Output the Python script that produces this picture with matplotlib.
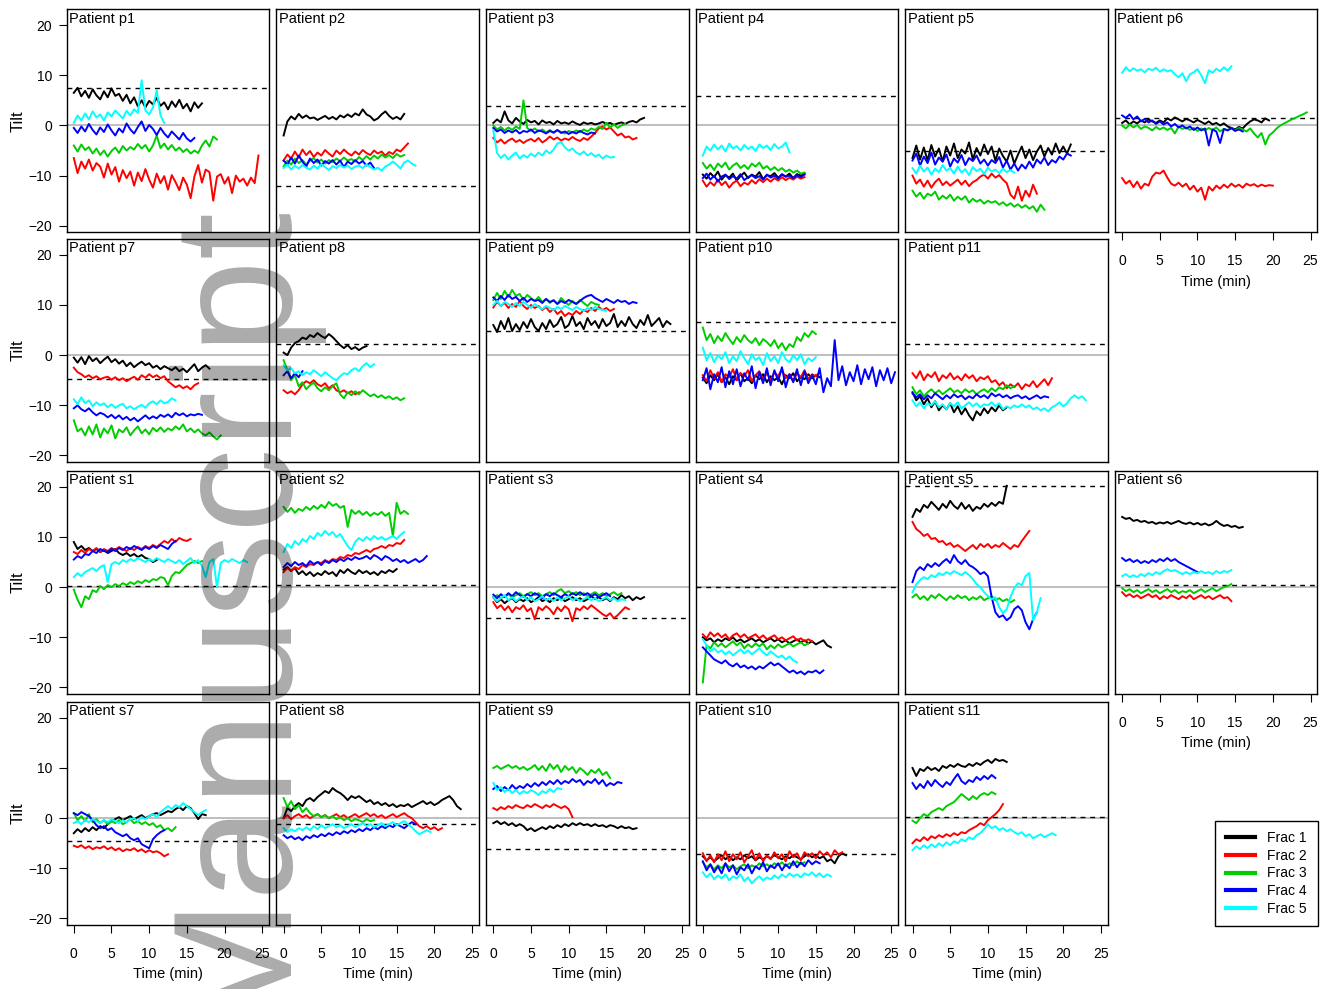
import numpy as np
import matplotlib.pyplot as plt
from matplotlib.lines import Line2D

plt.rcParams['font.family'] = ['Liberation Sans', 'DejaVu Sans']

# tilt traces are sampled every dt minutes, each list starts at t = 0
dt = 0.5
frac_labels = ['Frac 1', 'Frac 2', 'Frac 3', 'Frac 4', 'Frac 5']
frac_colours = ['#000000', '#FF0000', '#00CD00', '#0000FF', '#00FFFF']

layout = [['p1', 'p2', 'p3', 'p4', 'p5', 'p6'],
          ['p7', 'p8', 'p9', 'p10', 'p11', None],
          ['s1', 's2', 's3', 's4', 's5', 's6'],
          ['s7', 's8', 's9', 's10', 's11', None]]

# planned tilt per patient (dashed line)
ref_tilt = {'p1': 7.4, 'p2': -12.1, 'p3': 3.8, 'p4': 5.8, 'p5': -5.0, 'p6': 1.5,
            'p7': -4.8, 'p8': 2.3, 'p9': 4.9, 'p10': 6.6, 'p11': 2.3,
            's1': 0.2, 's2': 0.4, 's3': -6.1, 's4': 0.0, 's5': 20.1, 's6': 0.5,
            's7': -4.5, 's8': -1.2, 's9': -6.1, 's10': -7.2, 's11': 0.2}

# per patient: [frac 1, frac 2, frac 3, frac 4, frac 5]
p1 = [[6.5, 7.5, 5.8, 6.9, 5.5, 7.2, 6.0, 5.2, 6.8, 5.6, 7.4, 5.9, 6.3, 4.9, 6.1, 4.4, 5.6, 3.8, 5.0, 3.6, 4.9, 4.2, 5.5, 3.9, 4.6, 3.2, 4.8, 3.7, 5.1, 3.4, 4.3, 2.8, 4.6, 3.5, 4.4],
      [-6.5, -9.5, -7.2, -8.6, -6.8, -9.0, -7.5, -8.2, -10.4, -7.6, -9.8, -8.3, -11.2, -8.9, -10.5, -9.2, -12.0, -9.4, -11.1, -8.7, -10.8, -12.4, -9.6, -11.5, -10.1, -12.8, -9.9, -11.3, -12.9, -10.4, -11.8, -14.5, -10.2, -7.9, -11.4, -8.8, -9.3, -15.0, -10.2, -9.7, -11.6, -10.3, -13.5, -10.0, -11.2, -10.6, -12.0, -10.4, -11.5, -6.0],
      [-4.0, -5.2, -3.8, -4.9, -4.3, -5.6, -4.6, -5.9, -5.0, -6.2, -5.1, -4.4, -5.5, -4.1, -5.0, -4.3, -4.8, -3.7, -4.6, -3.9, -5.2, -4.0, -2.0, -4.5, -3.6, -4.8, -3.9, -5.0, -4.4, -5.3, -4.7, -5.6, -5.0, -5.5, -4.0, -3.0, -4.2, -2.2, -2.8],
      [-0.5, -1.5, -0.2, -1.2, 0.3, -0.9, -1.8, -0.4, -1.3, 0.2, -1.0, -2.0, -0.6, -1.4, 0.4, -0.8, -1.6, -0.3, 0.8, -1.1, 0.1, -0.7, -1.9, -0.5, -1.6, -2.4, -1.2, -2.0, -2.8, -1.5, -2.6, -3.2, -2.5],
      [0.5, 2.0, 1.0, 2.4, 1.2, 2.8, 1.6, 2.2, 1.0, 2.6, 1.8, 3.0, 2.2, 1.4, 2.9, 2.0, 3.2, 2.5, 9.0, 3.0, 2.2, 3.6, 7.0, 2.0, 0.5]]
p2 = [[-2.0, 0.8, 1.8, 1.2, 2.3, 1.5, 2.0, 1.4, 1.6, 1.1, 1.5, 1.9, 1.3, 1.7, 1.2, 2.0, 1.6, 2.2, 1.7, 2.4, 2.0, 3.2, 2.2, 1.8, 1.0, 1.4, 2.2, 2.8, 1.9, 1.3, 1.7, 1.2, 2.3],
      [-7.0, -5.8, -6.6, -5.2, -6.4, -4.8, -5.9, -5.1, -6.3, -5.4, -6.0, -4.9, -5.6, -6.2, -5.0, -5.7, -4.8, -5.5, -6.0, -5.2, -5.8, -4.9, -5.5, -5.9, -5.0, -5.6, -5.2, -6.0, -5.3, -5.7, -4.8, -5.2, -4.4, -3.6],
      [-8.2, -7.0, -7.8, -6.6, -7.5, -6.9, -7.8, -7.0, -6.5, -7.4, -6.8, -7.6, -6.9, -7.3, -6.6, -7.1, -6.4, -7.0, -6.7, -7.2, -6.3, -6.9, -6.1, -6.8, -6.0, -6.6, -5.8, -6.4, -5.9, -6.5, -5.7, -6.2, -5.9],
      [-7.0, -7.8, -6.4, -7.6, -6.0, -7.2, -8.2, -6.6, -7.5, -6.8, -8.0, -7.1, -7.6, -6.9, -7.8, -7.0, -8.3, -7.2, -7.7, -6.9, -7.6, -7.1, -8.0, -7.4, -8.5],
      [-8.5, -7.8, -8.8, -8.0, -8.6, -7.9, -8.4, -8.8, -8.0, -8.6, -7.7, -8.3, -8.9, -8.1, -8.5, -7.9, -8.4, -8.0, -8.7, -8.2, -8.0, -8.5, -7.8, -8.3, -8.8, -8.4, -9.0, -8.2, -7.8, -7.2, -7.8, -8.6, -7.4, -7.0, -7.6, -8.0]]
p3 = [[0.5, 1.2, 0.6, 2.8, 1.0, 0.4, 1.5, 0.8, 0.3, 1.1, 0.6, 0.9, 0.2, 1.0, 0.5, 0.7, 0.2, 0.9, 0.4, 0.6, 0.3, 0.8, 0.4, 0.1, 0.6, 0.3, 0.5, 0.2, 0.4, 0.7, 0.3, 0.5, 0.1, 0.4, 0.6, 0.3, 0.7, 0.9, 0.6, 1.2, 1.5],
      [-2.5, -3.4, -2.8, -3.6, -3.0, -2.6, -3.3, -2.9, -3.5, -3.0, -2.7, -3.2, -2.5, -3.4, -2.9, -2.2, -2.8, -2.4, -3.0, -2.6, -2.9, -2.3, -2.8, -3.1, -2.5, -2.9, -2.2, -1.5, -0.6, -0.2, -0.8, -0.4, -1.2, -2.0, -1.6, -2.4, -2.2, -2.8, -2.5],
      [0.0, -0.8, -0.3, -1.0, -0.4, -0.9, -0.2, -0.7, 5.0, -0.5, -1.1, -0.6, -1.2, -0.8, -1.4, -0.9, -1.5, -1.0, -1.3, -1.6, -1.1, -1.4, -1.0, -1.3, -0.8, -1.2, -0.6, -0.9, -0.3, -0.7, 0.5, -0.4, 0.2, -0.5, 0.0, 0.3],
      [-0.5, -1.2, -0.8, -1.5, -1.0, -1.4, -0.9, -1.6, -1.1, -1.3, -0.8, -1.5, -1.0, -1.2, -1.6, -1.1, -1.4, -0.9, -1.5, -1.2, -1.7, -1.3, -1.6, -1.1, -1.5, -1.8, -1.4, -1.6],
      [-1.0, -5.5, -6.5, -5.8, -6.8, -6.0, -5.4, -6.6, -5.9, -6.4, -5.6, -6.2, -5.4, -6.0, -5.0, -5.6, -4.8, -3.6, -3.3, -4.4, -5.0, -4.6, -5.4, -5.8, -5.2, -6.0, -5.5, -6.2, -5.8, -6.6, -6.0, -6.4, -6.3]]
p4 = [[-9.8, -10.6, -9.5, -10.3, -9.2, -10.8, -9.9, -10.4, -9.6, -11.0, -10.1, -9.4, -10.5, -9.8, -10.2, -9.3, -10.7, -9.9, -10.1, -9.5, -10.4, -9.8, -10.2, -9.6, -10.5, -9.7, -10.0, -9.6],
      [-11.0, -12.2, -11.3, -12.0, -10.8, -11.9, -11.2, -12.4, -11.5, -11.0, -12.1, -11.4, -11.8, -10.9, -11.6, -10.7, -11.3, -10.6, -11.2, -10.5, -11.0, -10.3, -10.9, -10.4, -10.8, -10.2, -10.6, -10.3],
      [-7.5, -8.6, -7.8, -8.9, -7.6, -8.3, -7.4, -8.8, -8.0, -7.5, -8.5, -7.9, -8.7, -7.6, -8.2, -7.4, -8.6, -8.1, -8.9, -8.3, -9.0, -8.5, -9.2, -8.8, -9.4, -9.0, -9.6, -9.4],
      [-10.5, -9.6, -10.8, -10.0, -11.2, -10.2, -9.8, -10.7, -10.1, -10.6, -9.7, -10.9, -10.3, -9.9, -10.5, -10.1, -10.8, -9.8, -10.4, -10.0, -10.6, -9.7, -10.2, -10.0, -10.5, -9.9, -10.3, -9.8],
      [-6.0, -4.2, -5.0, -3.8, -4.8, -4.0, -5.2, -3.6, -4.6, -4.1, -5.0, -3.9, -4.7, -4.2, -5.1, -3.8, -4.5, -4.0, -4.9, -3.7, -4.6, -4.2, -3.4, -5.4]]
p5 = [[-6.5, -4.0, -6.8, -4.4, -7.0, -3.9, -6.2, -4.6, -7.2, -4.2, -6.0, -3.6, -6.5, -4.8, -5.6, -3.4, -6.8, -4.5, -6.0, -3.8, -5.7, -4.2, -7.0, -4.6, -6.1, -7.2, -5.0, -7.6, -5.8, -4.2, -6.5, -4.8, -6.9, -5.2, -4.0, -6.2, -4.5, -5.8, -3.6, -5.5, -4.2, -5.6, -3.8],
      [-10.0, -11.6, -10.8, -12.2, -11.0, -12.4, -11.3, -10.6, -11.9, -11.2, -12.0, -11.4, -10.8, -11.8, -11.0, -12.1, -11.3, -10.9, -10.2, -9.8, -10.6, -9.6, -10.4, -9.9, -10.8, -11.5, -13.8, -14.6, -12.2, -15.0, -13.0, -14.2, -11.8, -13.6],
      [-13.0, -14.2, -13.4, -14.6, -13.6, -14.0, -13.2, -14.8, -14.0, -14.6, -13.8, -15.0, -14.2, -14.8, -14.1, -15.4, -14.6, -15.2, -14.8, -15.6, -15.0, -15.4, -15.1, -15.8, -15.3, -16.0, -15.5, -16.2, -15.7, -16.4, -15.9, -16.6, -16.1, -17.2, -15.8, -16.8],
      [-7.0, -5.6, -8.0, -6.2, -7.5, -5.4, -7.8, -6.4, -7.2, -5.8, -8.2, -6.6, -7.4, -5.9, -7.9, -6.5, -7.1, -6.0, -7.6, -6.8, -8.0, -6.9, -7.5, -6.3, -8.4, -7.0, -8.8, -7.6, -9.0, -7.8, -8.6, -7.2, -8.4, -6.8, -7.6, -6.4, -7.9, -6.9, -7.4, -6.2, -6.8, -5.6, -6.0],
      [-8.5, -9.6, -8.0, -9.2, -8.4, -9.8, -8.6, -9.3, -7.9, -9.0, -8.5, -9.6, -8.2, -9.4, -8.7, -9.9, -8.3, -9.1, -8.6, -9.7, -8.4, -9.2, -8.8, -9.5, -8.6, -9.3, -8.9, -9.4]]
p6 = [[0.5, 1.0, 0.2, 0.8, 0.4, 1.0, 0.6, 1.2, 0.8, 0.5, 1.0, 0.6, 1.4, 1.0, 1.6, 1.2, 0.8, 1.3, 1.0, 0.6, 1.1, 0.7, 0.3, 0.8, 0.2, 0.5, 0.0, 0.4, -0.2, -0.5, -0.8, -0.3, -0.6, 0.2, 0.8, 1.2, 1.0, 0.6, 1.4, 1.0],
      [-10.5, -11.6, -11.0, -12.3, -11.2, -12.6, -11.6, -12.0, -10.2, -9.4, -9.6, -9.0, -10.4, -11.6, -12.0, -11.4, -12.2, -11.6, -12.8, -12.0, -13.2, -12.4, -14.8, -12.2, -13.0, -12.0, -12.6, -11.8, -12.4, -11.6, -12.2, -11.8, -12.4, -11.6, -12.0, -11.7, -12.2, -11.8, -12.1, -11.9, -12.0],
      [0.0, -0.6, 0.2, -0.4, 0.1, -0.7, -0.2, -0.5, -1.0, -0.3, -0.8, -0.4, -0.9, -0.5, -1.6, -0.2, -0.7, -0.4, -0.9, -0.5, -1.1, -0.6, -1.0, -0.5, -0.9, -0.4, -1.2, -0.7, -0.9, -0.6, -1.0, -0.5, -0.8, -1.2, -0.6, -1.6, -2.4, -1.5, -3.8, -2.0, -1.4, -0.6, 0.0, 0.4, 0.8, 1.2, 1.5, 1.9, 2.2, 2.6],
      [2.0, 1.5, 2.2, 1.2, 1.8, 0.8, 1.3, 0.6, 1.0, 0.3, 0.8, 0.2, 0.6, -0.2, 0.3, -0.4, 0.0, -0.6, -0.2, -0.9, -0.4, -1.0, -0.6, -4.0, -0.8, -1.2, -3.5, -0.7, -1.0, -0.5, -1.1, -0.8, -1.2],
      [10.5, 11.6, 10.8, 11.4, 10.9, 11.2, 10.6, 11.3, 11.0, 11.5, 10.7, 11.2, 10.8, 11.0, 10.2, 9.6, 10.4, 8.8, 10.2, 10.6, 11.2, 10.0, 8.4, 11.0, 10.5, 11.3, 10.8, 11.6, 10.9, 11.8]]
p7 = [[-0.5, -1.5, -0.4, -1.8, -0.2, -1.2, -0.6, -1.6, -0.9, -0.3, -1.4, -0.8, -1.7, -1.1, -2.2, -1.5, -2.4, -1.8, -1.3, -2.0, -1.6, -2.5, -2.1, -2.8, -2.2, -2.6, -3.0, -2.4, -3.2, -2.7, -3.4, -2.6, -1.8, -3.2, -2.5, -2.0, -2.7],
      [-2.5, -3.4, -3.8, -4.4, -4.0, -4.6, -4.2, -4.8, -4.5, -4.3, -4.9, -4.4, -5.0, -4.6, -5.2, -4.7, -4.3, -4.9, -4.0, -4.5, -3.8, -4.4, -4.0, -4.6, -4.2, -5.2, -5.8, -6.4, -6.0, -6.6, -6.2, -6.8, -6.0, -5.6],
      [-13.0, -15.2, -14.6, -16.0, -14.2, -15.8, -13.8, -16.4, -14.6, -15.6, -14.0, -16.6, -14.8, -15.4, -14.4, -16.0, -15.0, -14.2, -15.6, -14.8, -15.8, -14.5, -15.2, -14.4, -15.3, -14.6, -15.0, -14.2, -14.8, -13.8, -15.2, -14.6, -15.4, -14.8, -15.6, -16.0, -15.4, -16.2, -16.8, -16.0],
      [-10.6, -10.0, -10.8, -11.2, -10.6, -11.4, -12.0, -11.5, -11.8, -12.4, -11.9, -12.6, -12.0, -12.8, -12.3, -13.0, -12.5, -13.2, -12.6, -12.0, -12.7, -12.2, -12.6, -11.9, -12.3, -11.8, -12.4, -11.5, -12.0, -11.6, -12.2, -11.8, -12.0, -11.7, -11.9],
      [-8.8, -9.8, -8.4, -9.6, -9.0, -10.2, -9.4, -10.0, -9.6, -10.4, -9.8, -10.5, -10.0, -9.7, -10.6, -10.2, -10.8, -10.3, -9.9, -10.5, -9.6, -9.2, -9.8, -9.0, -9.6, -9.3, -8.6, -9.0]]
p8 = [[0.5, 0.0, 1.5, 2.4, 2.8, 3.5, 3.2, 4.0, 3.6, 4.4, 3.8, 3.4, 4.2, 3.6, 2.8, 2.0, 1.4, 2.0, 1.2, 1.6, 1.0, 1.5, 1.8],
      [-7.0, -7.6, -7.2, -7.8, -7.0, -5.8, -5.2, -5.6, -5.0, -5.8, -6.2, -5.6, -6.6, -6.0, -7.0, -7.4, -7.0, -7.6, -7.2, -7.8, -7.4],
      [-1.0, -3.0, -5.0, -4.0, -6.2, -5.4, -6.8, -6.0, -5.5, -6.6, -7.2, -6.4, -7.0, -6.2, -5.6, -7.8, -8.6, -7.4, -8.0, -7.2, -7.8, -7.0, -7.6, -8.2, -7.8, -8.4, -8.0, -8.6, -8.2, -8.8, -8.4, -9.0, -8.6],
      [-4.0, -3.2, -4.6, -3.6, -4.4, -3.2],
      [-2.0, -3.0, -2.6, -3.6, -3.2, -4.0, -3.4, -3.8, -3.0, -3.6, -4.2, -3.4, -4.0, -4.6, -5.0, -4.2, -3.6, -3.8, -3.0, -2.6, -3.2, -2.2, -1.6, -2.4, -1.8]]
p9 = [[6.0, 4.6, 6.8, 5.2, 7.4, 4.8, 6.2, 5.0, 6.6, 5.4, 7.2, 5.6, 4.8, 6.4, 5.2, 7.0, 5.6, 6.2, 7.6, 5.4, 6.0, 7.8, 5.8, 6.6, 5.2, 7.4, 6.0, 6.8, 5.4, 7.2, 5.8, 6.4, 8.2, 5.6, 6.8, 5.8, 7.6, 6.2, 5.4, 7.0, 6.0, 8.0, 5.8, 6.6, 7.4, 5.6, 6.8, 6.2],
      [9.5, 10.6, 9.8, 10.4, 9.4, 10.2, 9.6, 10.8, 9.8, 9.2, 10.0, 9.4, 9.8, 9.0, 9.6, 8.6, 9.2, 8.2, 8.8, 7.8, 8.4, 8.0, 8.8, 8.2, 9.0, 8.6, 9.4, 8.8, 9.6, 9.0, 9.4, 8.8, 9.2],
      [11.0, 12.4, 11.2, 12.8, 11.6, 13.0, 11.8, 12.2, 11.0, 12.0, 11.4, 10.8, 11.6, 10.6, 11.2, 10.4, 11.0, 10.2, 11.4, 10.6, 10.0, 10.8, 10.2, 11.0, 10.4, 9.8, 10.6, 10.2, 10.0],
      [11.5, 10.8, 11.8, 11.0, 12.0, 11.2, 11.6, 10.8, 11.4, 10.6, 11.2, 10.8, 11.0, 10.4, 11.2, 10.6, 10.9, 10.2, 10.8, 10.4, 11.0, 10.6, 10.2, 10.8, 11.4, 11.8, 12.0, 11.4, 11.0, 10.6, 11.2, 10.8, 10.4, 11.0, 10.6, 10.8, 10.2, 10.6, 10.4],
      [10.0, 10.8, 9.8, 10.6, 10.2, 9.6, 10.4, 9.8, 10.6, 10.0, 9.4, 10.2, 9.6, 9.2, 9.8, 9.4, 9.0, 9.6, 9.2, 9.8, 9.4, 9.0, 9.6, 9.2, 8.8, 9.4, 9.0, 9.6, 9.2, 9.0, 8.8]]
p10 = [[-4.5, -5.6, -4.0, -5.0, -3.8, -5.4, -4.4, -5.8, -4.2, -5.0, -3.6, -5.2, -4.6, -5.6, -4.0, -4.8, -3.8, -5.4, -4.2, -5.0, -4.4, -5.8, -4.0, -4.6, -3.6, -5.2, -4.4, -4.8, -3.8, -4.6, -4.0, -4.4],
       [-4.0, -5.2, -3.0, -4.6, -3.4, -5.4, -3.8, -4.4, -2.8, -5.0, -3.6, -4.2, -3.0, -5.2, -4.0, -3.2, -4.8, -3.6, -5.0, -3.4, -4.2, -2.8, -4.6, -3.8, -5.2, -3.6, -4.4, -3.0, -4.8, -3.8, -4.2, -3.4],
       [5.5, 3.0, 4.2, 2.4, 3.8, 2.8, 4.4, 3.2, 2.2, 3.6, 2.6, 4.0, 3.0, 2.4, 3.4, 2.0, 3.2, 2.6, 1.8, 3.0, 1.4, 2.4, 1.0, 2.2, 1.6, 3.6, 2.8, 4.4, 3.6, 4.8, 4.2],
       [-5.0, -2.6, -6.8, -3.8, -5.4, -2.4, -6.4, -3.2, -5.8, -2.8, -6.2, -3.6, -5.0, -2.2, -6.6, -3.4, -5.6, -2.6, -6.0, -3.0, -5.2, -2.4, -6.4, -3.8, -5.4, -2.8, -6.0, -3.2, -5.6, -4.0, -5.8, -2.6, -7.4, -4.6, -6.2, 3.0, -5.0, -2.2, -6.0, -3.4, -5.2, -2.0, -5.8, -2.8, -4.8, -2.4, -6.2, -3.0, -5.0, -2.6, -5.6, -3.4],
       [1.5, -1.0, 0.4, -1.4, 0.0, -0.8, 0.6, -1.6, -0.2, -1.2, 0.8, -0.6, -1.8, 0.2, -1.0, -0.4, -2.0, 0.4, -1.2, -0.2, -1.6, 0.6, -0.8, -1.4, 0.0, -1.0, 0.2, -1.8, -0.6, -1.2, -0.4]]
p11 = [[-7.4, -9.0, -8.2, -9.8, -8.6, -10.4, -9.2, -11.0, -10.0, -10.8, -9.6, -11.4, -10.2, -11.8, -10.6, -12.0, -13.0, -11.2, -12.0, -10.6, -11.6, -10.4, -11.2, -10.0, -11.0, -10.4],
       [-3.6, -4.6, -3.2, -5.0, -3.8, -4.4, -3.4, -5.2, -4.0, -4.6, -3.6, -4.8, -4.2, -5.0, -3.8, -4.6, -4.0, -5.2, -4.4, -4.8, -4.2, -5.4, -5.0, -6.0, -5.4, -6.6, -5.8, -6.4, -5.6, -6.8, -5.8, -6.2, -5.2, -6.4, -5.6, -4.8, -6.0, -4.6],
       [-6.4, -7.8, -7.0, -8.2, -7.4, -6.8, -7.6, -7.0, -7.8, -7.2, -6.6, -7.4, -7.0, -7.6, -6.8, -7.4, -7.0, -7.8, -7.2, -6.8, -7.4, -6.6, -7.2, -6.4, -6.8, -6.0, -6.6, -6.2],
       [-7.6, -8.4, -7.8, -8.8, -8.0, -8.6, -7.6, -8.2, -8.8, -8.0, -8.6, -7.8, -8.4, -8.0, -8.8, -8.2, -8.6, -7.8, -8.4, -8.0, -8.6, -7.6, -8.2, -7.8, -8.4, -8.0, -8.6, -8.2, -8.0, -8.6, -8.2, -8.8, -8.4, -8.0, -8.6, -8.2, -8.4],
       [-9.0, -10.2, -9.4, -10.6, -9.6, -10.0, -9.2, -10.4, -9.8, -10.8, -9.6, -10.2, -9.4, -10.6, -10.0, -9.4, -10.2, -9.6, -10.4, -9.8, -10.0, -9.4, -10.2, -9.6, -10.8, -10.2, -10.6, -10.0, -10.4, -9.8, -10.4, -10.0, -10.8, -10.4, -11.0, -10.6, -11.2, -10.4, -10.0, -9.4, -10.2, -9.6, -8.6, -8.0, -8.6, -8.2, -9.0]]
s1 = [[9.0, 7.6, 8.2, 7.4, 7.8, 7.2, 7.6, 7.0, 7.4, 6.8, 7.2, 7.6, 6.8, 6.4, 6.8, 6.2, 6.6, 6.0, 6.4, 5.8, 5.6, 5.0, 5.4],
      [7.0, 6.6, 7.4, 6.8, 7.6, 7.2, 7.8, 7.0, 7.6, 7.2, 7.8, 7.4, 8.0, 7.6, 7.2, 7.8, 7.4, 8.0, 7.6, 8.2, 7.8, 8.4, 8.0, 8.6, 9.2, 8.8, 9.6, 9.0, 9.8, 9.4, 9.2, 9.6],
      [-0.5, -2.5, -4.0, -1.8, -2.4, -0.6, -1.0, 0.2, -0.4, 0.4, 0.0, 0.6, 0.2, 0.8, 0.4, 1.0, 0.6, 1.2, 0.8, 1.4, 1.0, 1.6, 1.4, 2.0, 1.8, 0.4, 2.2, 3.0, 2.8, 3.6, 4.4, 4.8, 5.2, 4.8, 5.2],
      [5.5, 6.2, 5.8, 6.6, 6.4, 7.2, 6.8, 7.6, 7.2, 7.0, 7.6, 7.2, 7.8, 7.4, 8.0, 7.6, 8.2, 7.8, 7.4, 8.0, 7.6, 8.2, 7.8, 8.4, 8.0, 7.6, 8.6, 9.2],
      [2.0, 2.8, 2.2, 3.0, 3.4, 3.8, 3.2, 4.0, 4.4, 1.0, 4.6, 5.0, 4.6, 5.4, 5.0, 5.6, 5.2, 5.8, 5.4, 5.0, 5.6, 5.2, 5.8, 5.4, 5.0, 5.6, 5.2, 4.8, 5.4, 4.6, 5.2, 5.8, 4.8, 5.4, 4.2, 2.0, 5.0, 5.6, 0.0, 4.8, 5.4, 5.0, 5.6, 5.2, 4.8, 5.4, 5.0]]
s2 = [[3.5, 4.0, 3.2, 3.8, 2.6, 3.2, 2.4, 3.0, 2.2, 2.8, 2.4, 3.2, 2.6, 3.0, 2.2, 3.4, 2.8, 3.6, 3.0, 2.6, 3.4, 2.8, 3.2, 2.6, 3.0, 2.4, 3.2, 2.8, 3.4, 3.0, 3.6],
      [3.0, 3.8, 3.2, 4.0, 3.6, 4.4, 4.0, 4.6, 4.4, 5.0, 4.8, 5.4, 5.0, 5.6, 5.4, 6.0, 5.8, 6.4, 6.2, 6.8, 6.6, 7.0, 7.4, 7.0, 7.6, 7.8, 8.2, 7.8, 8.4, 8.2, 8.8, 8.6, 9.4],
      [16.0, 15.0, 15.8, 14.8, 15.6, 15.2, 16.0, 15.4, 16.2, 15.6, 16.4, 15.8, 17.0, 16.2, 16.6, 15.8, 16.2, 12.0, 15.4, 14.6, 15.2, 14.4, 15.0, 14.2, 14.8, 14.4, 15.0, 14.2, 14.8, 10.2, 16.8, 14.6, 15.2, 14.6],
      [4.0, 4.8, 4.2, 5.0, 4.4, 4.8, 4.2, 5.2, 4.6, 5.0, 4.4, 5.2, 4.8, 5.4, 5.0, 5.6, 5.2, 5.8, 5.4, 6.0, 5.6, 5.8, 6.2, 5.6, 6.4, 6.0, 5.4, 6.2, 5.8, 5.2, 5.6, 5.0, 5.4, 4.8, 5.2, 5.6, 5.0, 5.4, 6.2],
      [7.0, 8.6, 7.8, 9.2, 8.4, 9.6, 9.0, 10.2, 9.6, 10.8, 10.2, 11.2, 10.4, 11.0, 10.0, 10.6, 9.4, 8.2, 7.4, 9.0, 9.8, 9.2, 10.0, 9.4, 10.2, 9.6, 10.0, 9.4, 9.8, 10.2, 9.6, 10.4, 11.0]]
s3 = [[-2.0, -3.0, -2.4, -3.2, -2.6, -2.2, -3.0, -2.4, -2.8, -2.2, -3.0, -2.6, -2.0, -2.8, -2.4, -3.0, -2.2, -2.6, -2.0, -2.8, -2.4, -2.0, -2.6, -2.2, -2.8, -2.4, -1.8, -2.4, -2.0, -2.6, -2.2, -2.8, -2.0, -2.4, -1.6, -2.2, -1.8, -2.6, -2.0, -2.4, -2.0],
      [-3.0, -4.2, -3.6, -4.6, -3.8, -5.0, -4.0, -4.4, -3.6, -4.8, -4.2, -6.4, -4.0, -4.6, -3.8, -4.4, -5.4, -4.0, -4.8, -3.8, -4.4, -6.8, -4.2, -4.6, -3.8, -4.4, -3.6, -4.2, -4.8, -5.4, -5.8, -5.2, -6.2, -5.6, -4.8, -4.0, -4.4],
      [-2.0, -1.6, -2.2, -1.8, -1.4, -2.0, -1.6, -1.2, -1.8, -1.4, -1.0, -1.6, -1.2, -1.8, -1.4, -1.0, -1.6, -0.8, -0.4, -1.2, -0.8, -1.4, -1.0, -1.6, -1.2, -1.8, -1.4, -1.0, -1.6, -1.2, -1.8, -1.4, -1.0, -1.6, -1.2],
      [-1.5, -2.2, -1.4, -2.0, -1.2, -1.8, -1.0, -1.6, -2.0, -1.4, -1.8, -1.2, -1.6, -2.2, -1.4, -1.8, -1.2, -1.6, -2.0, -1.4, -1.8, -1.2, -1.6, -1.0, -1.6, -1.2, -1.8, -1.4, -2.0, -1.6, -1.2, -1.8],
      [-2.0, -2.8, -2.2, -1.6, -2.6, -2.0, -2.8, -2.2, -1.8, -2.6, -2.0, -2.8, -2.4, -1.8, -2.6, -2.2, -2.8, -2.0, -2.6, -2.2, -1.8, -2.6, -2.2, -2.8, -2.4, -2.0, -2.6, -2.2, -2.8, -2.4, -2.0, -2.6, -2.2, -2.8, -2.4, -2.6]]
s4 = [[-10.0, -10.6, -10.2, -11.0, -10.4, -10.8, -10.2, -10.6, -10.0, -10.8, -10.4, -11.0, -10.6, -10.2, -10.8, -10.4, -11.0, -10.6, -10.2, -10.8, -10.4, -11.0, -10.6, -11.2, -10.8, -10.4, -11.0, -10.6, -11.2, -10.8, -11.4, -11.0, -10.6, -11.6, -12.0],
      [-9.4, -10.2, -9.0, -9.8, -9.2, -10.0, -9.4, -10.4, -9.6, -9.2, -10.0, -9.4, -10.2, -9.8, -9.4, -10.2, -9.6, -10.4, -10.0, -9.6, -10.4, -10.0, -10.6, -10.2, -9.8, -10.6, -10.2, -10.8, -10.4, -10.8],
      [-19.0, -11.6, -12.2, -11.0, -11.8, -11.2, -12.0, -11.4, -10.8, -11.6, -11.0, -12.2, -11.4, -12.0, -11.2, -11.8, -11.2, -12.4, -11.6, -12.2, -11.4, -12.0, -11.6, -11.2, -11.8, -11.4, -11.0, -11.6, -11.2],
      [-12.0, -12.8, -13.6, -14.4, -14.8, -15.2, -14.6, -15.4, -15.8, -15.2, -16.0, -15.6, -16.2, -15.8, -16.4, -15.8, -16.2, -15.6, -15.0, -15.6, -15.2, -15.8, -16.4, -17.0, -16.6, -17.2, -16.8, -17.4, -16.8, -17.0, -16.6, -17.2, -16.6],
      [-10.4, -11.6, -12.8, -12.2, -13.0, -12.6, -13.4, -12.8, -13.6, -13.0, -12.4, -13.2, -12.6, -13.4, -12.8, -12.2, -13.0, -13.6, -12.8, -13.4, -14.0, -13.6, -14.4, -13.8, -14.6, -15.0]]
s5 = [[14.0, 15.6, 15.0, 16.4, 15.8, 17.0, 16.2, 15.4, 16.6, 15.8, 17.2, 16.2, 15.6, 16.8, 15.6, 16.4, 15.2, 16.0, 15.6, 16.6, 16.0, 16.8, 16.2, 17.0, 16.6, 20.2],
      [13.0, 11.6, 11.0, 10.2, 10.6, 9.6, 9.8, 9.0, 9.2, 8.4, 8.8, 8.0, 8.4, 7.8, 7.2, 7.8, 8.4, 7.6, 8.6, 8.0, 8.6, 7.8, 8.4, 8.0, 8.8, 8.2, 7.6, 8.4, 8.0, 9.2, 10.2, 11.2],
      [-2.0, -1.4, -2.4, -1.8, -2.6, -1.6, -2.2, -1.4, -2.0, -2.6, -1.8, -2.4, -1.6, -2.2, -1.8, -2.6, -2.0, -2.4, -1.8, -2.6, -2.2, -1.8, -2.6, -2.2, -2.8, -2.4, -3.0, -2.6],
      [1.0, 3.2, 4.0, 3.4, 4.6, 4.0, 4.8, 4.2, 5.0, 5.6, 4.8, 6.4, 5.2, 4.6, 5.4, 4.4, 4.0, 3.4, 2.6, 3.0, 2.2, -2.0, -5.0, -6.0, -5.6, -6.6, -6.0, -4.4, -3.8, -4.6, -7.0, -8.4, -6.4, -5.0],
      [-1.0, 0.6, 1.4, 2.0, 1.6, 2.4, 2.0, 2.8, 2.4, 3.0, 2.6, 3.2, 2.8, 2.4, 3.0, 2.4, 1.6, 0.6, 0.0, -1.0, -1.8, -2.4, -2.0, -4.0, -5.2, -4.4, -2.0, -0.2, 0.8, 0.4, 2.2, 2.8, -6.6, -5.0, -2.2]]
s6 = [[14.0, 13.6, 13.8, 13.2, 13.4, 13.0, 13.2, 12.8, 13.0, 12.6, 12.9, 12.7, 13.0, 12.6, 12.9, 13.2, 12.8, 12.6, 12.9, 12.5, 12.8, 12.4, 12.7, 12.3, 12.6, 13.2, 12.6, 12.2, 12.4, 12.0, 12.2, 11.8, 12.0],
      [-1.0, -1.8, -1.4, -2.0, -1.6, -2.2, -1.8, -1.4, -2.0, -1.6, -2.4, -1.8, -2.2, -1.6, -2.0, -2.4, -1.8, -2.2, -1.6, -2.4, -2.0, -1.6, -2.2, -1.8, -2.4, -2.0, -1.6, -2.2, -2.0, -2.8],
      [-0.2, -0.8, -0.4, -1.0, -0.6, -1.2, -0.8, -0.4, -1.0, -0.6, -1.2, -0.8, -0.4, -1.0, -0.6, -1.2, -0.8, -1.0, -0.6, -1.2, -0.8, -0.4, -1.0, -0.6, -0.2, -0.8, -0.4, 0.0, 0.2, 0.6],
      [5.8, 5.2, 5.6, 5.0, 5.4, 4.8, 5.2, 4.8, 5.4, 5.0, 5.6, 5.2, 5.8, 5.2, 5.6, 5.0, 4.6, 4.2, 3.8, 3.4, 3.0],
      [2.2, 2.6, 2.0, 2.4, 2.0, 2.6, 2.2, 2.8, 2.4, 3.0, 2.6, 3.2, 3.6, 3.2, 3.4, 3.0, 2.6, 3.0, 2.6, 3.0, 2.8, 3.2, 2.8, 3.0, 2.6, 3.2, 2.8, 3.2, 3.0, 3.4]]
s7 = [[-3.0, -2.2, -2.8, -2.0, -2.6, -1.8, -2.4, -1.6, -2.0, -1.2, -0.6, -0.2, 0.2, -0.4, 0.0, 0.4, -0.2, 0.2, 0.6, 0.0, 0.4, 0.8, 1.0, 0.6, 1.0, 1.4, 1.2, 1.8, 2.2, 1.6, 2.4, 2.0, 1.0, -0.2, 0.8, 0.6],
      [-5.5, -5.8, -5.4, -6.0, -5.6, -6.2, -5.8, -6.0, -5.6, -6.2, -5.8, -6.4, -6.0, -6.6, -6.2, -6.4, -6.0, -6.6, -6.2, -6.8, -6.4, -6.8, -6.6, -7.0, -7.6, -7.2],
      [1.0, -0.4, 0.4, -0.6, 0.8, -0.8, -0.2, -1.0, -0.4, -1.2, -0.6, -1.0, -0.4, -1.2, -0.8, -0.2, -1.0, -0.6, -1.2, -0.8, -1.4, -1.0, -1.8, -1.4, -2.4, -2.0, -2.6, -1.8],
      [1.0, 0.6, 1.2, 0.8, 0.4, -0.4, -1.4, -2.0, -1.6, -2.4, -2.0, -2.8, -3.2, -3.6, -3.2, -4.0, -4.4, -4.0, -5.2, -5.6, -6.0, -4.2, -3.4, -2.8, -2.4],
      [-1.0, -0.6, -1.2, -0.4, -0.8, -0.2, -0.6, -1.0, -0.4, -0.8, -0.2, -0.6, -1.0, -0.4, -0.8, -0.2, 0.0, -0.6, 0.2, -0.2, 0.4, 0.8, 0.2, 1.2, 1.8, 2.4, 1.8, 2.6, 2.2, 3.0, 2.4, 1.8, 1.2, 0.6, 1.2, 1.6]]
s8 = [[0.0, 2.0, 1.4, 2.4, 3.0, 2.4, 3.6, 4.0, 3.4, 4.2, 4.8, 5.4, 5.0, 6.0, 5.4, 5.0, 4.4, 3.6, 4.4, 4.0, 4.4, 3.8, 3.2, 3.6, 2.8, 3.2, 2.6, 3.0, 2.4, 2.8, 2.2, 2.6, 2.4, 2.8, 2.2, 2.6, 3.0, 3.4, 2.8, 3.2, 2.6, 3.0, 3.6, 4.0, 4.4, 3.6, 2.4, 1.8],
      [0.0, 0.6, -0.2, 0.4, 0.8, 0.2, 0.6, 0.0, 0.4, 0.8, 0.2, 0.6, 0.0, 0.4, 0.8, 0.2, 0.6, 0.0, 0.4, 0.8, 0.2, 0.6, 1.0, 0.4, 0.8, 0.2, 0.6, 0.0, 0.4, 0.8, 0.2, 0.6, 1.0, 0.4, 0.0, -0.8, -1.6, -2.0, -1.6, -2.2, -1.8, -2.4, -2.0],
      [4.0, 2.2, 3.4, 1.8, 2.6, 1.2, 2.0, 1.0, 0.4, 0.8, 0.2, 0.6, 0.0, 0.4, -0.2, 0.2, -0.4, 0.0, -0.6, -0.2, -0.4, -0.8, -0.2, -0.6, -0.4],
      [-3.4, -4.0, -3.6, -4.2, -3.8, -4.4, -3.6, -4.0, -3.4, -3.8, -3.2, -3.6, -3.0, -3.4, -2.8, -3.2, -2.6, -3.0, -2.4, -2.8, -2.2, -2.6, -2.0, -2.4, -1.8, -2.2, -1.6, -2.0, -1.4, -1.8, -1.2, -1.6, -2.0, -1.4, -0.8, -1.2],
      [-2.0, -2.8, -2.2, -2.6, -2.0, -2.4, -1.8, -2.4, -1.6, -2.2, -1.4, -2.0, -1.6, -1.2, -1.8, -1.4, -2.0, -1.6, -1.2, -1.8, -1.4, -1.0, -1.6, -1.2, -1.8, -1.4, -1.0, -1.6, -1.2, -0.8, -1.4, -1.0, -0.6, -1.2, -1.8, -2.6, -3.2, -2.8, -2.4, -2.8]]
s9 = [[-1.0, -0.6, -1.2, -0.8, -1.4, -1.0, -1.6, -1.2, -1.6, -2.4, -2.0, -2.6, -2.2, -1.8, -2.2, -1.6, -2.0, -1.4, -1.8, -1.2, -1.6, -1.0, -1.4, -1.0, -1.4, -1.2, -1.6, -1.2, -1.6, -1.4, -1.8, -1.4, -1.6, -2.0, -1.6, -2.0, -1.8, -2.2, -2.0],
      [2.0, 1.6, 2.2, 1.8, 2.4, 2.0, 2.6, 2.2, 2.0, 2.6, 2.2, 2.8, 2.4, 2.0, 2.6, 2.2, 2.8, 2.4, 2.0, 2.4, 1.8, 0.2],
      [10.0, 10.4, 9.8, 10.2, 10.6, 10.0, 10.4, 9.8, 10.2, 9.6, 10.0, 10.6, 9.6, 10.4, 9.4, 10.8, 9.8, 10.6, 9.2, 10.4, 9.6, 10.2, 9.0, 10.0, 9.4, 8.6, 9.6, 9.0, 9.8, 8.6, 9.2, 8.0],
      [5.8, 6.4, 5.4, 6.2, 5.6, 6.6, 5.8, 6.4, 6.0, 6.8, 6.2, 7.0, 6.4, 7.2, 6.6, 7.4, 6.8, 7.6, 6.8, 7.4, 7.0, 7.8, 7.2, 7.6, 6.6, 7.4, 7.0, 7.8, 6.8, 7.6, 6.4, 7.0, 6.6, 7.2, 7.0],
      [7.0, 5.6, 6.2, 5.2, 5.8, 5.0, 5.6, 4.8, 5.4, 5.0, 5.6, 5.2, 4.6, 5.4, 5.0, 5.8, 5.2, 6.0, 5.8]]
s10 = [[-7.6, -8.4, -7.8, -8.6, -8.0, -7.4, -8.2, -7.6, -8.4, -7.8, -8.2, -7.4, -8.0, -7.6, -8.4, -7.8, -8.2, -7.6, -8.0, -7.4, -7.8, -8.2, -7.6, -8.0, -7.4, -7.8, -8.2, -7.6, -7.2, -7.8, -7.4, -8.0, -7.6, -8.6, -8.2, -9.0, -7.6, -7.0, -7.4],
       [-7.0, -8.6, -7.4, -8.8, -7.2, -8.4, -6.6, -8.6, -7.2, -8.2, -6.8, -8.8, -7.6, -6.4, -8.4, -7.0, -8.6, -7.4, -8.2, -6.8, -8.0, -7.2, -8.6, -6.6, -7.8, -7.0, -8.4, -6.8, -7.6, -7.0, -8.0, -6.6, -7.4, -6.8, -7.8, -6.4, -7.2, -6.8],
       [-8.8, -9.8, -9.2, -10.2, -9.4, -10.0, -9.0, -9.8, -9.4, -10.2, -9.6, -9.2, -10.0, -9.4, -9.8, -9.0, -9.6, -9.2, -9.8, -9.0, -9.4, -8.8, -9.6, -9.0, -9.4, -8.6, -9.2, -8.8],
       [-8.6, -10.4, -9.2, -10.8, -9.6, -11.0, -9.0, -10.6, -9.4, -11.2, -9.8, -10.4, -9.2, -11.0, -9.6, -10.2, -8.8, -10.6, -9.4, -10.0, -9.0, -10.4, -9.2, -10.0, -8.6, -9.8, -8.8, -9.6, -8.4, -9.2, -8.6, -9.0],
       [-10.8, -11.8, -11.0, -12.2, -11.4, -12.0, -11.2, -12.4, -11.6, -12.0, -11.2, -12.6, -11.8, -13.0, -12.2, -11.6, -12.4, -11.8, -12.2, -11.4, -12.0, -11.2, -11.8, -11.0, -11.6, -11.2, -11.8, -11.0, -11.4, -10.8, -11.6, -11.0, -11.8, -11.2, -11.6]]
s11 = [[10.0, 8.4, 9.8, 9.4, 10.2, 9.6, 10.0, 9.4, 10.4, 10.0, 10.6, 10.2, 10.8, 10.4, 10.2, 10.8, 10.4, 11.0, 10.6, 11.2, 11.6, 11.0, 11.8, 11.4, 11.6, 11.2],
       [-5.0, -4.2, -4.6, -3.8, -4.4, -3.6, -4.0, -3.4, -3.8, -3.2, -3.6, -3.0, -3.4, -2.8, -3.0, -2.4, -2.0, -1.6, -1.0, -1.4, -0.4, 0.2, 0.8, 1.6, 2.8],
       [-0.5, -1.0, 0.0, 0.8, 0.4, 1.2, 1.6, 2.0, 1.6, 2.4, 2.8, 3.2, 4.0, 4.8, 4.2, 3.6, 4.4, 3.8, 4.6, 5.0, 4.6, 5.2, 4.8],
       [7.0, 5.8, 6.8, 6.0, 7.4, 6.4, 7.6, 6.8, 6.2, 7.2, 6.6, 7.8, 8.8, 7.4, 6.8, 7.6, 7.2, 8.2, 7.6, 8.4, 7.8, 8.6, 8.0],
       [-6.4, -5.6, -6.2, -5.4, -6.0, -5.2, -5.8, -5.0, -5.6, -4.8, -5.4, -4.6, -5.0, -4.2, -4.6, -3.8, -4.2, -3.4, -3.0, -2.2, -1.2, -2.0, -1.6, -2.4, -2.0, -2.6, -2.2, -2.8, -3.2, -2.8, -3.6, -3.2, -4.0, -3.6, -3.2, -3.8, -3.4, -3.0, -3.4]]

traces = {'p1': p1, 'p2': p2, 'p3': p3, 'p4': p4, 'p5': p5, 'p6': p6,
          'p7': p7, 'p8': p8, 'p9': p9, 'p10': p10, 'p11': p11,
          's1': s1, 's2': s2, 's3': s3, 's4': s4, 's5': s5, 's6': s6,
          's7': s7, 's8': s8, 's9': s9, 's10': s10, 's11': s11}

W, H = 1330, 989
fig = plt.figure(figsize=(W / 100, H / 100), dpi=100)

col_left = [66.5, 276.3, 486.0, 695.5, 905.2, 1114.8]
row_top = [9.3, 239.0, 471.0, 702.0]
pw, ph = 202.5, 223.0

for r, row in enumerate(layout):
    for c, name in enumerate(row):
        if name is None:
            continue
        ax = fig.add_axes([col_left[c] / W, 1 - (row_top[r] + ph) / H, pw / W, ph / H])
        ax.set_xlim(-0.97, 25.9)
        ax.set_ylim(-21.3, 23.15)
        ax.axhline(0, color='#BEBEBE', lw=1.4, zorder=1)
        ax.axhline(ref_tilt[name], color='black', lw=1.0, ls=(0, (3.5, 3.5)), zorder=1)
        for k, y in enumerate(traces[name]):
            t = np.arange(len(y)) * dt
            ax.plot(t, y, color=frac_colours[k], lw=1.4, zorder=2 + k)
        ax.text(0.012, 0.99, 'Patient ' + name, transform=ax.transAxes,
                ha='left', va='top', fontsize=10.5)
        for sp in ax.spines.values():
            sp.set_linewidth(1.0)
        ax.set_xticks([0, 5, 10, 15, 20, 25])
        ax.set_yticks([-20, -10, 0, 10, 20])
        ax.tick_params(direction='out', length=5.5, width=0.8, labelsize=10)
        ax.tick_params(axis='x', pad=10)
        ax.tick_params(axis='y', pad=5)
        if c == 0:
            ax.set_ylabel('Tilt', fontsize=12, labelpad=2)
        else:
            ax.tick_params(axis='y', left=False, labelleft=False)
        if r == 3 or c == 5:
            ax.set_xlabel('Time (min)', fontsize=10.5, labelpad=5)
        else:
            ax.tick_params(axis='x', bottom=False, labelbottom=False)

handles = [Line2D([], [], color=col, lw=3) for col in frac_colours]
fig.legend(handles, frac_labels, loc='lower right',
           bbox_to_anchor=(1317.5 / W, 1 - 926 / H), borderaxespad=0,
           fontsize=10, frameon=True, fancybox=False, edgecolor='black',
           framealpha=1, handlelength=2.1, handletextpad=0.9,
           labelspacing=0.26, borderpad=0.75)

fig.text(278 / W, 1 - 1027 / H, 'Manuscript', rotation=90, rotation_mode='anchor',
         ha='left', va='baseline', fontsize=122, color='black', alpha=0.33,
         zorder=100)

fig.savefig('out.png', dpi=100)
